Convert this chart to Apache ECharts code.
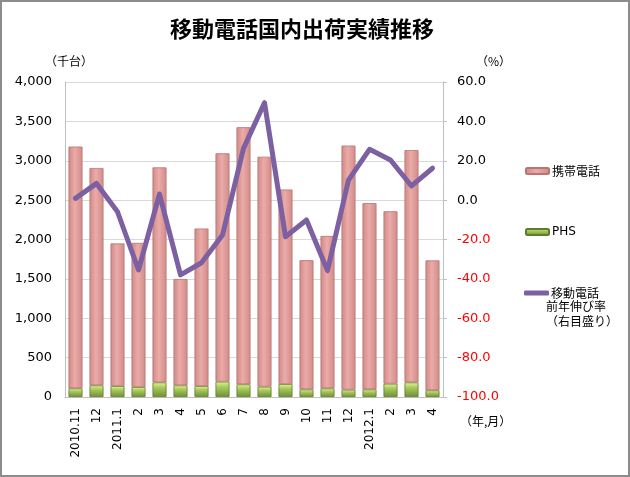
<!DOCTYPE html>
<html>
<head>
<meta charset="utf-8">
<script src="https://cdn.jsdelivr.net/npm/echarts@6/dist/echarts.min.js"></script>
<style>
  html, body { margin: 0; padding: 0; background: #fff; }
  #wrap { width: 630px; height: 477px; box-sizing: border-box; border: 2px solid #8c8c8c; position: relative; overflow: hidden; }
  #chart { position: absolute; left: -2px; top: -2px; width: 630px; height: 477px; }
</style>
</head>
<body>
<div id="wrap"><div id="chart"></div></div>
<script>
const categories = ['2010.11','12','2011.1','2','3','4','5','6','7','8','9','10','11','12','2012.1','2','3','4'];
const keitai = [3070, 2760, 1810, 1830, 2730, 1350, 2000, 2900, 3265, 2920, 2470, 1640, 1935, 3100, 2365, 2190, 2950, 1650];
const phs = [110, 148, 140, 127, 186, 148, 140, 195, 161, 131, 165, 97, 110, 93, 97, 169, 186, 85];
const growth = [0.9, 8.5, -5.9, -35.5, 3.1, -38.0, -31.8, -17.7, 26.3, 49.5, -18.6, -10.1, -35.8, 10.2, 25.8, 20.4, 7.2, 16.2];
const leftTicks = { min: 0, max: 4000, interval: 500 };
const rightTicks = { min: -100, max: 60, interval: 20 };

const NUM_FONT = "'DejaVu Sans', 'Noto Sans CJK JP', sans-serif";
const JP_FONT = "'Noto Sans CJK JP', 'DejaVu Sans', sans-serif";

const pinkFill = new echarts.graphic.LinearGradient(0, 0, 1, 0, [
  { offset: 0, color: '#CF8986' },
  { offset: 0.45, color: '#EBABA8' },
  { offset: 1, color: '#D08B88' }
]);
const greenFill = new echarts.graphic.LinearGradient(0, 0, 0, 1, [
  { offset: 0, color: '#E2F590' },
  { offset: 0.35, color: '#A9CA5E' },
  { offset: 1, color: '#6F8E36' }
]);

const chart = echarts.init(document.getElementById('chart'));
chart.setOption({
  animation: false,
  backgroundColor: 'transparent',
  title: {
    text: '移動電話国内出荷実績推移',
    left: 165,
    top: 13,
    textStyle: { fontFamily: JP_FONT, fontSize: 22, fontWeight: 'bold', color: '#000' }
  },
  grid: { left: 65, right: 187, top: 82, bottom: 80, containLabel: false },
  legend: [
    {
      data: ['携帯電話'], orient: 'vertical', left: 520, top: 160,
      itemWidth: 23, itemHeight: 6, itemGap: 0,
      textStyle: { fontFamily: JP_FONT, fontSize: 12, color: '#000', padding: [0, 0, 0, -2] }
    },
    {
      data: ['PHS'], orient: 'vertical', left: 520, top: 221,
      itemWidth: 23, itemHeight: 6, itemGap: 0,
      textStyle: { fontFamily: NUM_FONT, fontSize: 12, color: '#000', padding: [0, 0, 0, -2] }
    },
    {
      data: [{ name: '移動電話前年伸び率', icon: 'roundRect' }], orient: 'vertical', left: 519, top: 282,
      itemWidth: 25, itemHeight: 5, itemGap: 0,
      formatter: function () { return '移動電話'; },
      textStyle: { fontFamily: JP_FONT, fontSize: 12, color: '#000', padding: [0, 0, 0, -3] }
    }
  ],
  graphic: [
    { type: 'text', left: 45, top: 55, style: { text: '（千台）', font: '12px ' + JP_FONT, fill: '#000' } },
    { type: 'text', left: 476, top: 55, style: { text: '（%）', font: '12px ' + JP_FONT, fill: '#000' } },
    { type: 'text', left: 460, top: 415, style: { text: '（年,月）', font: '12px ' + JP_FONT, fill: '#000' } },
    { type: 'text', left: 546, top: 300, style: { text: '前年伸び率', font: '12px ' + JP_FONT, fill: '#000' } },
    { type: 'text', left: 546, top: 315, style: { text: '（右目盛り）', font: '12px ' + JP_FONT, fill: '#000' } }
  ],
  xAxis: {
    type: 'category',
    data: categories,
    axisLine: { show: true, lineStyle: { color: '#BFBFBF', width: 1 } },
    axisTick: { show: false },
    axisLabel: { interval: 0, rotate: 90, margin: 11, fontFamily: NUM_FONT, fontSize: 12, color: '#000' },
    splitLine: { show: false }
  },
  yAxis: [
    {
      type: 'value', position: 'left',
      min: leftTicks.min, max: leftTicks.max, interval: leftTicks.interval,
      axisLine: { show: true, lineStyle: { color: '#BFBFBF', width: 1 } },
      axisTick: { show: false },
      axisLabel: {
        margin: 13, fontFamily: NUM_FONT, fontSize: 13, color: '#000',
        formatter: function (v) { return v.toLocaleString('en-US'); }
      },
      splitLine: { show: true, lineStyle: { color: '#D9D9D9', width: 1 } }
    },
    {
      type: 'value', position: 'right',
      min: rightTicks.min, max: rightTicks.max, interval: rightTicks.interval,
      axisLine: { show: true, lineStyle: { color: '#BFBFBF', width: 1 } },
      axisTick: { show: true, inside: false, length: 4, lineStyle: { color: '#BFBFBF' } },
      axisLabel: {
        margin: 14, fontFamily: NUM_FONT, fontSize: 13,
        color: function (v) { return Number(v) < 0 ? '#FF0000' : '#000000'; },
        formatter: function (v) { return v.toFixed(1); }
      },
      splitLine: { show: false }
    }
  ],
  series: [
    {
      name: 'PHS', type: 'bar', stack: 'total', yAxisIndex: 0,
      data: phs, barWidth: 14,
      itemStyle: { color: greenFill, borderColor: '#5F7B2E', borderWidth: 0.8 }
    },
    {
      name: '携帯電話', type: 'bar', stack: 'total', yAxisIndex: 0,
      data: keitai, barWidth: 14,
      itemStyle: { color: pinkFill, borderColor: '#B87572', borderWidth: 0.8 }
    },
    {
      name: '移動電話前年伸び率', type: 'line', yAxisIndex: 1,
      data: growth, symbol: 'none', showSymbol: false, z: 5,
      lineStyle: { color: '#7D60A2', width: 5, cap: 'round', join: 'round' },
      itemStyle: { color: '#7D60A2' }
    }
  ]
});
</script>
</body>
</html>
